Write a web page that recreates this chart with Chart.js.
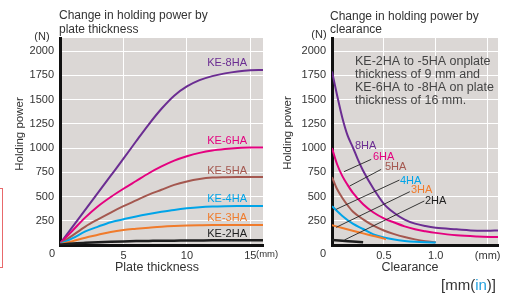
<!DOCTYPE html>
<html><head><meta charset="utf-8">
<script src="https://cdn.jsdelivr.net/npm/chart.js@4.4.1/dist/chart.umd.min.js"></script>
<style>
html,body{margin:0;padding:0;background:#fff;width:507px;height:293px;overflow:hidden;}
#wl{position:absolute;left:0;top:0;width:285px;height:293px;}
#wr{position:absolute;left:265px;top:0;width:242px;height:293px;}
#redbox{position:absolute;left:-20px;top:188px;width:21px;height:78px;border:1px solid #e8696b;}
</style></head><body>
<div id="wl"><canvas id="cl" width="285" height="293"></canvas></div>
<div id="wr"><canvas id="cr" width="242" height="293"></canvas></div>
<div id="redbox"></div>
<script>
// ---------- Data: holding power (N) vs plate thickness (mm) ----------
const thickness = [0,1,2,3,4,5,6,7,8,9,10,11,12,13,14,15,16];
const ke8HA = [15,190,365,540,715,890,1070,1245,1405,1540,1635,1700,1742,1770,1790,1802,1805];
const ke6HA = [15,150,285,400,495,580,660,740,810,870,915,950,975,990,1000,1005,1005];
const ke5HA = [10,100,190,265,335,400,460,520,570,620,655,680,695,700,702,702,702];
const ke4HA = [8,70,140,190,235,265,295,320,342,362,378,390,397,400,401,401,401];
const ke3HA = [6,40,75,105,135,155,167,178,188,195,200,203,205,205,205,205,205];
const ke2HA = [5,15,22,28,33,37,40,42,44,45,46,47,48,48,48,48,48];

// ---------- Data: holding power (N) vs clearance (mm) ----------
const clr8HAx = [0,0.05,0.1,0.15,0.2,0.25,0.3,0.4,0.5,0.6,0.7,0.8,0.9,1.0,1.2,1.4,1.5,1.6];
const clr8HAy = [1790,1540,1310,1130,1010,880,765,580,425,330,262,220,195,178,162,148,146,150];
const clr6HAx = [0,0.05,0.1,0.15,0.2,0.3,0.4,0.5,0.6,0.7,0.8,0.9,1.0,1.2,1.4,1.6];
const clr6HAy = [1000,830,710,620,540,420,335,275,232,192,162,142,125,100,88,82];
const clr5HAx = [0,0.05,0.1,0.15,0.2,0.3,0.4,0.5,0.6,0.7,0.8,0.9,1.0];
const clr5HAy = [700,575,485,410,345,265,200,150,112,82,58,40,28];
const clr4HAx = [0,0.1,0.2,0.3,0.4,0.5,0.6,0.7,0.8,0.9,1.0];
const clr4HAy = [400,300,220,165,110,78,56,42,33,28,25];
const clr3HAx = [0,0.1,0.2,0.3,0.4,0.5,0.52];
const clr3HAy = [205,175,147,120,93,66,60];
const clr2HAx = [0,0.1,0.2,0.3];
const clr2HAy = [52,43,36,28];

// leader lines (data units: clearance mm, N)
const leader6 = [[0.115,756],[0.378,883]];
const leader5 = [[0.17,608],[0.474,780]];
const leader4 = [[0.04,368],[0.65,670]];
const leader3 = [[0.04,182],[0.75,550]];
const leader2 = [[0.12,52],[0.89,454]];

// ticks
const yTicks = [0,250,500,750,1000,1250,1500,1750,2000];
const xTicksThickness = [0,5,10,15];
const xTicksClearance = [0,0.5,1.0,1.5];

const C = {purple:'#6b2d92', magenta:'#e4007f', brown:'#a4574f', cyan:'#00a4e8', orange:'#f07b2b', black:'#1e1e1e', text:'#333'};
const FONT = '"Liberation Sans", Arial, sans-serif';

function txt(ctx, s, x, y, o) {
  o = o || {};
  ctx.save();
  ctx.font = (o.size || 11) + 'px ' + FONT;
  ctx.fillStyle = o.color || C.text;
  ctx.textAlign = o.align || 'left';
  ctx.textBaseline = 'middle';
  if (o.rot) { ctx.translate(x, y); ctx.rotate(o.rot); ctx.fillText(s, 0, 0); }
  else ctx.fillText(s, x, y);
  ctx.restore();
}

const bgPlugin = {
  id: 'bg',
  beforeDraw(chart) {
    const a = chart.chartArea, ctx = chart.ctx;
    ctx.save(); ctx.fillStyle = '#dbd7d5';
    ctx.fillRect(a.left, a.top, a.right - a.left, a.bottom - a.top);
    ctx.restore();
  }
};

function line(xs, ys, color, w) {
  return { data: xs.map((x, i) => ({x: x, y: ys[i]})), borderColor: color, borderWidth: w || 2,
           pointRadius: 0, fill: false, cubicInterpolationMode: 'monotone' };
}
function leader(pts) {
  return { data: pts.map(p => ({x: p[0], y: p[1]})), borderColor: '#222', borderWidth: 0.9,
           pointRadius: 0, fill: false, tension: 0 };
}

function baseOptions(xmin, xmax, xticks, yWidth, pad, xcb) {
  return {
    responsive: false, animation: false,
    layout: { padding: pad },
    plugins: { legend: {display: false}, tooltip: {enabled: false} },
    scales: {
      x: {
        type: 'linear', min: xmin, max: xmax,
        afterBuildTicks: s => { s.ticks = xticks.map(v => ({value: v})); },
        afterFit: s => { s.height = 48; },
        grid: { color: '#ffffff', lineWidth: 1, drawTicks: false },
        border: { display: true, color: '#111', width: 3 },
        ticks: { padding: 4, color: C.text, font: {family: FONT, size: 11}, maxRotation: 0, autoSkip: false, callback: xcb }
      },
      y: {
        type: 'linear', min: 0, max: 2135,
        afterBuildTicks: s => { s.ticks = yTicks.map(v => ({value: v})); },
        afterFit: s => { s.width = yWidth; },
        grid: { color: '#ffffff', lineWidth: 1, drawTicks: false },
        border: { display: true, color: '#111', width: 3 },
        ticks: { padding: 6, color: C.text, font: {family: FONT, size: 11}, callback: v => v === 0 ? '' : String(v) }
      }
    }
  };
}

// ---------- Left chart ----------
const leftText = {
  id: 'leftText',
  afterDraw(chart) {
    const ctx = chart.ctx;
    txt(ctx, 'Change in holding power by', 59, 16, {size: 12});
    txt(ctx, 'plate thickness', 59, 30, {size: 12});
    txt(ctx, '(N)', 42, 37, {size: 11, align: 'center'});
    txt(ctx, '0', 52, 254, {size: 11, align: 'center'});
    txt(ctx, '(mm)', 256, 254, {size: 9.5});
    txt(ctx, 'Holding power', 20, 134, {size: 11.5, align: 'center', rot: -Math.PI / 2});
    txt(ctx, 'Plate thickness', 157, 268, {size: 12.5, align: 'center'});
    txt(ctx, 'KE-8HA', 247, 63, {color: C.purple, align: 'right'});
    txt(ctx, 'KE-6HA', 247, 141, {color: C.magenta, align: 'right'});
    txt(ctx, 'KE-5HA', 247, 171, {color: C.brown, align: 'right'});
    txt(ctx, 'KE-4HA', 247, 199, {color: C.cyan, align: 'right'});
    txt(ctx, 'KE-3HA', 247, 218, {color: C.orange, align: 'right'});
    txt(ctx, 'KE-2HA', 247, 234, {color: C.black, align: 'right'});
  }
};

new Chart(document.getElementById('cl'), {
  type: 'line',
  data: { datasets: [
    line(thickness, ke2HA, C.black, 2.5),
    line(thickness, ke3HA, C.orange),
    line(thickness, ke4HA, C.cyan),
    line(thickness, ke5HA, C.brown),
    line(thickness, ke6HA, C.magenta),
    line(thickness, ke8HA, C.purple)
  ]},
  options: baseOptions(0, 16, xTicksThickness, 60, {top: 38, right: 22, left: 0, bottom: 0},
                       v => v === 0 ? '' : String(v)),
  plugins: [bgPlugin, leftText]
});

// ---------- Right chart ----------
const rightText = {
  id: 'rightText',
  afterDraw(chart) {
    const ctx = chart.ctx;
    txt(ctx, 'Change in holding power by', 65, 17, {size: 12});
    txt(ctx, 'clearance', 65, 30, {size: 12});
    txt(ctx, '(N)', 54, 35, {size: 11, align: 'center'});
    txt(ctx, '0', 58, 254, {size: 11, align: 'center'});
    txt(ctx, 'Holding power', 23, 133, {size: 11.5, align: 'center', rot: -Math.PI / 2});
    txt(ctx, 'Clearance', 145, 268, {size: 12.5, align: 'center'});
    const note = ['KE-2HA to -5HA onplate', 'thickness of 9 mm and', 'KE-6HA to -8HA on plate', 'thickness of 16 mm.'];
    note.forEach((s, i) => txt(ctx, s, 90, 62 + i * 13, {size: 12.5, color: '#444'}));
    txt(ctx, '8HA', 90, 146, {color: C.purple});
    txt(ctx, '6HA', 108, 157, {color: C.magenta});
    txt(ctx, '5HA', 120, 167, {color: C.brown});
    txt(ctx, '4HA', 135, 181, {color: C.cyan});
    txt(ctx, '3HA', 146, 190, {color: C.orange});
    txt(ctx, '2HA', 160, 201, {color: C.black});
    // unit note
    ctx.save();
    ctx.font = '15px ' + FONT; ctx.textBaseline = 'middle';
    let x = 176; const y = 286;
    [['[mm(', '#333'], ['in', '#22a0de'], [')]', '#333']].forEach(p => {
      ctx.fillStyle = p[1]; ctx.fillText(p[0], x, y); x += ctx.measureText(p[0]).width;
    });
    ctx.restore();
  }
};

new Chart(document.getElementById('cr'), {
  type: 'line',
  data: { datasets: [
    leader(leader6), leader(leader5), leader(leader4), leader(leader3), leader(leader2),
    line(clr2HAx, clr2HAy, C.black, 2.5),
    line(clr3HAx, clr3HAy, C.orange),
    line(clr4HAx, clr4HAy, C.cyan),
    line(clr5HAx, clr5HAy, C.brown),
    line(clr6HAx, clr6HAy, C.magenta),
    line(clr8HAx, clr8HAy, C.purple)
  ]},
  options: baseOptions(0, 1.6, xTicksClearance, 67, {top: 38, right: 9, left: 0, bottom: 0},
                       v => v === 0 ? '' : (v === 1.5 ? '(mm)' : v.toFixed(1))),
  plugins: [bgPlugin, rightText]
});
</script>
</body></html>
